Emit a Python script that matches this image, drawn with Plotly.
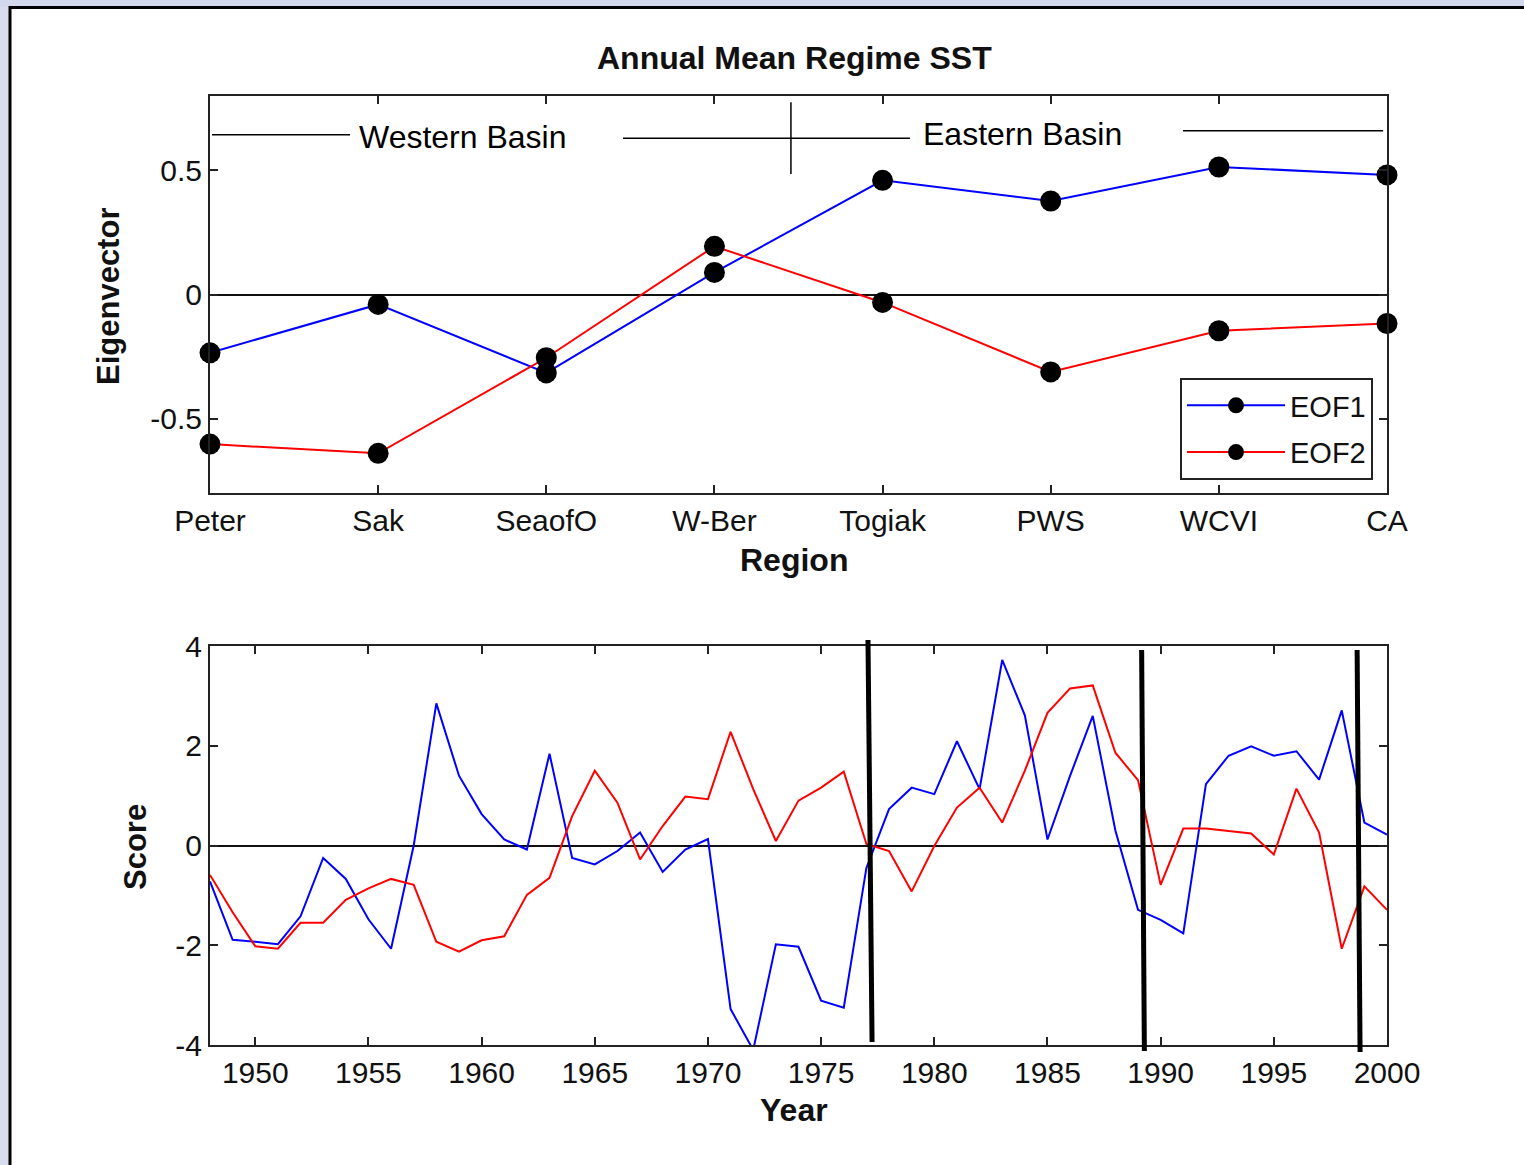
import plotly.graph_objects as go

# ---------------- data ----------------
regions = ["Peter", "Sak", "SeaofO", "W-Ber", "Togiak", "PWS", "WCVI", "CA"]
eof1_vec = [-0.235, -0.04, -0.316, 0.089, 0.46, 0.377, 0.514, 0.482]
eof2_vec = [-0.603, -0.64, -0.255, 0.194, -0.032, -0.312, -0.146, -0.117]

years = [1948, 1949, 1950, 1951, 1952, 1953, 1954, 1955, 1956, 1957,
         1958, 1959, 1960, 1961, 1962, 1963, 1964, 1965, 1966, 1967,
         1968, 1969, 1970, 1971, 1972, 1973, 1974, 1975, 1976, 1977,
         1978, 1979, 1980, 1981, 1982, 1983, 1984, 1985, 1986, 1987,
         1988, 1989, 1990, 1991, 1992, 1993, 1994, 1995, 1996, 1997,
         1998, 1999, 2000]
eof1_score = [-0.72, -1.89, -1.93, -1.98, -1.42, -0.25, -0.67, -1.48, -2.07, 0.0,
              2.85, 1.40, 0.63, 0.12, -0.08, 1.84, -0.25, -0.38, -0.11, 0.26,
              -0.53, -0.08, 0.13, -3.28, -4.10, -1.98, -2.03, -3.11, -3.25, -0.45,
              0.73, 1.16, 1.03, 2.09, 1.13, 3.72, 2.61, 0.12, 1.40, 2.60,
              0.30, -1.29, -1.49, -1.76, 1.23, 1.80, 1.99, 1.80, 1.89, 1.32,
              2.71, 0.46, 0.22]
eof2_score = [-0.59, -1.34, -2.02, -2.07, -1.55, -1.55, -1.09, -0.86, -0.67, -0.79,
              -1.93, -2.13, -1.90, -1.82, -0.99, -0.65, 0.59, 1.50, 0.86, -0.28,
              0.39, 0.98, 0.93, 2.28, 1.13, 0.09, 0.90, 1.16, 1.48, 0.03,
              -0.11, -0.92, -0.01, 0.76, 1.16, 0.46, 1.50, 2.66, 3.15, 3.21,
              1.86, 1.31, -0.79, 0.34, 0.34, 0.29, 0.24, -0.18, 1.14, 0.26,
              -2.07, -0.82, -1.29]

vec_ticks = [-0.5, 0, 0.5]
vec_ticktext = ["-0.5", "0", "0.5"]
score_ticks = [-4, -2, 0, 2, 4]
score_ticktext = ["-4", "-2", "0", "2", "4"]
year_ticks = [1950, 1955, 1960, 1965, 1970, 1975, 1980, 1985, 1990, 1995, 2000]
year_ticktext = ["1950", "1955", "1960", "1965", "1970", "1975",
                 "1980", "1985", "1990", "1995", "2000"]

# regime shift marks (drawn by hand on the original): year at top / bottom of stroke
shift_years_top = [1977.07, 1989.16, 1998.68]
shift_years_bottom = [1977.25, 1989.28, 1998.81]

# ---------------- figure ----------------
W, H = 1524, 1165
def px(x):
    return x / W
def py(y):
    return 1 - y / H

FONT = "Liberation Sans, Arial, Helvetica, sans-serif"
BLUE = "#0000ff"
RED = "#ff0000"

fig = go.Figure()

fig.add_trace(go.Scatter(x=regions, y=eof1_vec, name="EOF1", mode="lines+markers",
                         legendgroup="g1",
                         line=dict(color=BLUE, width=2),
                         marker=dict(color="black", size=21, line=dict(width=0)),
                         cliponaxis=False, xaxis="x", yaxis="y"))
fig.add_trace(go.Scatter(x=regions, y=eof2_vec, name="EOF2", mode="lines+markers",
                         legendgroup="g2",
                         line=dict(color=RED, width=2),
                         marker=dict(color="black", size=21, line=dict(width=0)),
                         cliponaxis=False, xaxis="x", yaxis="y"))
fig.add_trace(go.Scatter(x=years, y=eof1_score, name="EOF1", mode="lines",
                         line=dict(color=BLUE, width=2), showlegend=False,
                         xaxis="x2", yaxis="y2"))
fig.add_trace(go.Scatter(x=years, y=eof2_score, name="EOF2", mode="lines",
                         line=dict(color=RED, width=2), showlegend=False,
                         xaxis="x2", yaxis="y2"))

axis_common = dict(showline=True, linecolor="#222222", linewidth=2, mirror="allticks",
                   ticks="inside", ticklen=8, tickwidth=2, tickcolor="#222222",
                   showgrid=False, automargin=False,
                   tickfont=dict(family=FONT, size=30, color="#111111"))

fig.update_layout(
    width=W, height=H, autosize=False,
    margin=dict(l=0, r=0, t=0, b=0, pad=0),
    paper_bgcolor="white", plot_bgcolor="white",
    showlegend=True,
    legend=dict(x=px(1373), y=py(378), xanchor="right", yanchor="top",
                bgcolor="white", bordercolor="#222222", borderwidth=2,
                font=dict(family=FONT, size=29, color="#111111"),
                itemwidth=98, traceorder="grouped", tracegroupgap=6),
    xaxis=dict(domain=[px(210), px(1387)], anchor="y", type="category",
               range=[0, 7], zeroline=False, **axis_common),
    yaxis=dict(domain=[py(493), py(96)], anchor="x", range=[-0.8, 0.8],
               tickvals=vec_ticks, ticktext=vec_ticktext,
               zeroline=True, zerolinecolor="#111111", zerolinewidth=2, **axis_common),
    xaxis2=dict(domain=[px(210), px(1387)], anchor="y2", range=[1948, 2000],
                tickvals=year_ticks, ticktext=year_ticktext, zeroline=False, **axis_common),
    yaxis2=dict(domain=[py(1045), py(646)], anchor="x2", range=[-4, 4],
                tickvals=score_ticks, ticktext=score_ticktext,
                zeroline=True, zerolinecolor="#111111", zerolinewidth=2, **axis_common),
)

shapes = []
# slide background strips and frame
shapes.append(dict(type="rect", xref="paper", yref="paper", x0=0, x1=px(10), y0=0, y1=1,
                   fillcolor="#d9dcee", line=dict(width=0), layer="below"))
shapes.append(dict(type="rect", xref="paper", yref="paper", x0=0, x1=1, y0=py(7), y1=1,
                   fillcolor="#d3d8ec", line=dict(width=0), layer="below"))
shapes.append(dict(type="line", xref="paper", yref="paper", x0=px(10), x1=px(10), y0=0, y1=py(6),
                   line=dict(color="black", width=3)))
shapes.append(dict(type="line", xref="paper", yref="paper", x0=px(9), x1=1, y0=py(7.5), y1=py(7.5),
                   line=dict(color="black", width=3)))

# basin annotation lines (top panel, in category / value units)
basin_lines = [
    (0.012, 0.644, 0.833, 0.644),
    (2.456, 0.630, 3.455, 0.630),
    (3.455, 0.775, 3.455, 0.486),
    (3.455, 0.630, 4.163, 0.630),
    (5.787, 0.660, 6.977, 0.660),
]
for x0, y0, x1, y1 in basin_lines:
    shapes.append(dict(type="line", xref="x", yref="y", x0=x0, y0=y0, x1=x1, y1=y1,
                       line=dict(color="black", width=1.5)))

# regime shift strokes (bottom panel)
for xt, xb, yt, yb in zip(shift_years_top, shift_years_bottom,
                          [py(640), py(650), py(650)], [py(1042), py(1051), py(1052)]):
    shapes.append(dict(type="line", xref="x2", yref="paper", x0=xt, y0=yt, x1=xb, y1=yb,
                       line=dict(color="black", width=5)))
fig.update_layout(shapes=shapes)

bold32 = dict(family=FONT, size=32, color="#111111")
bold31 = dict(family=FONT, size=31, color="#111111")
ann = [
    dict(text="<b>Annual Mean Regime SST</b>", x=px(795), y=py(58), font=bold32),
    dict(text="<b>Region</b>", x=px(794), y=py(560), font=bold32),
    dict(text="<b>Year</b>", x=px(794), y=py(1110), font=bold32),
    dict(text="<b>Eigenvector</b>", x=px(108), y=py(297), font=bold31, textangle=-90),
    dict(text="<b>Score</b>", x=px(135), y=py(847), font=bold31, textangle=-90),
]
annotations = []
for a in ann:
    d = dict(xref="paper", yref="paper", showarrow=False, xanchor="center", yanchor="middle")
    d.update(a)
    annotations.append(d)
for txt, xc, yc in [("Western Basin", 1.505, 0.636), ("Eastern Basin", 4.83, 0.648)]:
    annotations.append(dict(text=txt, xref="x", yref="y", x=xc, y=yc, showarrow=False,
                            xanchor="center", yanchor="middle",
                            font=dict(family=FONT, size=32, color="black")))
fig.update_layout(annotations=annotations)

fig.write_html("out.html", config={"responsive": False})
